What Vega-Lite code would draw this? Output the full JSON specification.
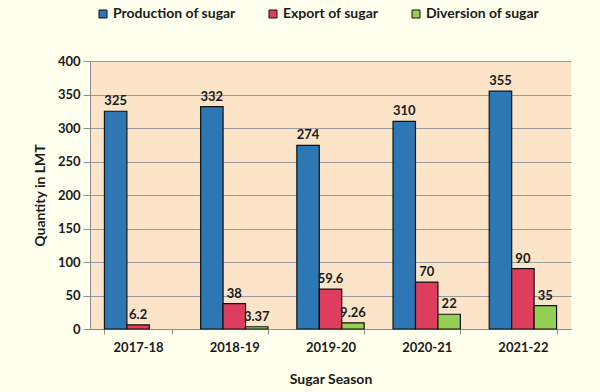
{
  "$schema": "https://vega.github.io/schema/vega-lite/v6.json",
  "width": 481,
  "height": 268,
  "autosize": {"type": "none"},
  "padding": {"left": 90, "top": 61, "right": 29, "bottom": 63},
  "background": "#FFFFEE",
  "config": {
    "view": {"fill": "#FCE4C8", "stroke": null},
    "font": "Lato",
    "axis": {
      "labelFont": "Lato", "labelFontWeight": "bold", "labelFontSize": 13, "labelColor": "#1a1a1a",
      "titleFont": "Lato", "titleFontWeight": "bold", "titleFontSize": 14, "titleColor": "#1a1a1a",
      "domainColor": "#8c8c8c", "tickColor": "#8c8c8c", "gridColor": "#9a9a9a", "gridWidth": 1
    }
  },
  "data": {
    "values": [
      {"season": "2017-18", "type": "Production of sugar", "value": 325},
      {"season": "2017-18", "type": "Export of sugar", "value": 6.2},
      {"season": "2018-19", "type": "Production of sugar", "value": 332},
      {"season": "2018-19", "type": "Export of sugar", "value": 38},
      {"season": "2018-19", "type": "Diversion of sugar", "value": 3.37},
      {"season": "2019-20", "type": "Production of sugar", "value": 274},
      {"season": "2019-20", "type": "Export of sugar", "value": 59.6},
      {"season": "2019-20", "type": "Diversion of sugar", "value": 9.26},
      {"season": "2020-21", "type": "Production of sugar", "value": 310},
      {"season": "2020-21", "type": "Export of sugar", "value": 70},
      {"season": "2020-21", "type": "Diversion of sugar", "value": 22},
      {"season": "2021-22", "type": "Production of sugar", "value": 355},
      {"season": "2021-22", "type": "Export of sugar", "value": 90},
      {"season": "2021-22", "type": "Diversion of sugar", "value": 35}
    ]
  },
  "encoding": {
    "x": {
      "field": "season", "type": "nominal", "title": "Sugar Season",
      "scale": {"paddingInner": 0.3, "paddingOuter": 0.15},
      "axis": {"labelAngle": 0, "tickBand": "extent", "tickSize": 5, "labelPadding": 7, "titlePadding": 18, "grid": false}
    },
    "xOffset": {"field": "type", "type": "nominal", "sort": ["Production of sugar", "Export of sugar", "Diversion of sugar"]},
    "y": {
      "field": "value", "type": "quantitative", "title": "Quantity in LMT",
      "scale": {"domain": [0, 400]},
      "axis": {"values": [0, 50, 100, 150, 200, 250, 300, 350, 400], "tickSize": 7, "labelPadding": 3, "titlePadding": 10, "grid": true}
    }
  },
  "layer": [
    {
      "mark": {"type": "bar", "stroke": "#111111", "strokeWidth": 1.2},
      "encoding": {
        "color": {
          "field": "type", "type": "nominal",
          "scale": {"domain": ["Production of sugar", "Export of sugar", "Diversion of sugar"], "range": ["#2E77B5", "#DE3E5C", "#92CF52"]},
          "legend": {
            "orient": "none", "legendX": 6, "legendY": -54, "direction": "horizontal", "title": null,
            "symbolType": "square", "symbolSize": 64, "symbolStrokeColor": "#111111", "symbolStrokeWidth": 1,
            "labelFont": "Lato", "labelFontSize": 14, "labelFontWeight": "bold", "labelColor": "#1a1a1a",
            "columnPadding": 30, "labelOffset": 3, "padding": 0
          }
        }
      }
    },
    {
      "mark": {"type": "text", "baseline": "bottom", "dy": -3, "font": "Lato", "fontWeight": "bold", "fontSize": 13, "color": "#1a1a1a"},
      "encoding": {
        "text": {"field": "value", "type": "quantitative", "format": "~g"}
      }
    }
  ]
}
